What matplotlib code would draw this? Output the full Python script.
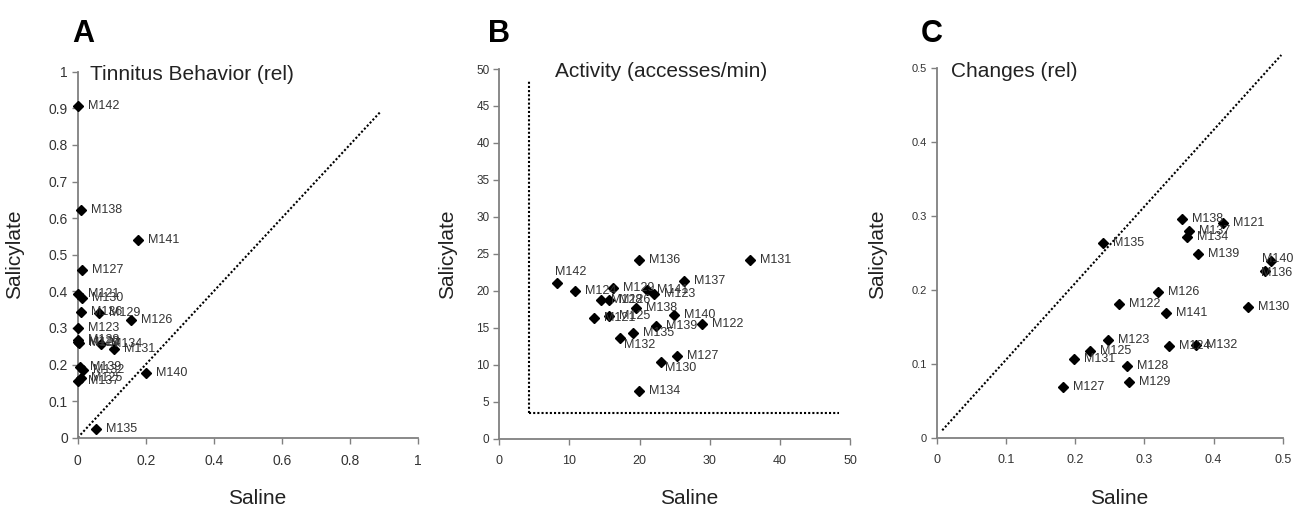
import matplotlib
matplotlib.use("Agg")
import matplotlib.pyplot as plt

plt.rcParams['font.family'] = ['Liberation Sans', 'DejaVu Sans']

# panel A - tinnitus behavior (rel)
a_names = ["M142", "M138", "M141", "M127", "M121", "M130", "M136", "M129", "M126", "M123", "M128",
           "M122", "M124", "M134", "M131", "M139", "M132", "M140", "M125", "M137", "M135"]
a_saline = [0.0, 0.010, 0.178, 0.012, 0.0, 0.012, 0.011, 0.062, 0.158, 0.0, 0.0,
            0.0, 0.003, 0.069, 0.107, 0.006, 0.016, 0.200, 0.009, 0.0, 0.054]
a_salicylate = [0.905, 0.622, 0.541, 0.458, 0.392, 0.383, 0.343, 0.340, 0.322, 0.299, 0.268,
                0.262, 0.258, 0.255, 0.241, 0.194, 0.185, 0.176, 0.164, 0.155, 0.023]

# panel B - activity (accesses/min)
b_names = ["M136", "M131", "M142", "M137", "M129", "M141", "M123", "M124", "M128", "M126", "M138",
           "M140", "M121", "M125", "M122", "M139", "M135", "M132", "M127", "M130", "M134"]
b_saline = [19.9, 35.7, 8.2, 26.4, 16.2, 21.1, 22.1, 10.8, 14.5, 15.6, 19.5,
            24.9, 13.5, 15.6, 28.9, 22.3, 19.0, 17.2, 25.4, 23.05, 19.9]
b_salicylate = [24.15, 24.15, 21.0, 21.3, 20.4, 20.1, 19.6, 19.95, 18.7, 18.7, 17.7,
                16.7, 16.3, 16.6, 15.5, 15.2, 14.3, 13.6, 11.1, 10.4, 6.4]

# panel C - changes (rel)
c_names = ["M138", "M121", "M137", "M134", "M135", "M139", "M140", "M136", "M126", "M122",
           "M130", "M141", "M123", "M124", "M132", "M125", "M131", "M128", "M129", "M127"]
c_saline = [0.355, 0.414, 0.365, 0.361, 0.241, 0.378, 0.483, 0.475, 0.320, 0.264,
            0.450, 0.332, 0.248, 0.336, 0.374, 0.222, 0.198, 0.275, 0.278, 0.182]
c_salicylate = [0.296, 0.290, 0.280, 0.272, 0.263, 0.249, 0.239, 0.226, 0.197, 0.181,
                0.177, 0.169, 0.132, 0.124, 0.125, 0.118, 0.107, 0.097, 0.075, 0.069]

# reference lines
a_diag = [0.0, 0.89]
c_diag_x = [0.008, 0.498]
c_diag_y = [0.010, 0.518]
b_thresh_x = 4.2
b_thresh_y = 3.5
b_thresh_end = 48.4

# label nudges in pixels (dx, dy) where the default right-side placement differs
b_nudge = {"M142": (-2, 11), "M132": (4, -7), "M130": (4, -6)}
c_nudge = {"M140": (-9, 2), "M136": (-4, -2)}

W, H = 1302, 507
fig = plt.figure(figsize=(W / 100, H / 100), dpi=100)

grey = "#808080"
txt = "#333333"


def box(l, r, t, b):
    return [l / W, (H - b) / H, (r - l) / W, (b - t) / H]


def styleAxes(ax, xt, yt, fs_x, fs_y):
    for s in ["top", "right"]:
        ax.spines[s].set_visible(False)
    for s in ["left", "bottom"]:
        ax.spines[s].set_color(grey)
        ax.spines[s].set_linewidth(1.3)
    ax.set_xticks(xt)
    ax.set_yticks(yt)
    ax.set_xticklabels([f"{v:g}" for v in xt], fontsize=fs_x, color=txt)
    ax.set_yticklabels([f"{v:g}" for v in yt], fontsize=fs_y, color=txt)
    ax.tick_params(colors=grey, length=4, width=1, labelcolor=txt)
    ax.tick_params(axis="x", pad=8)
    ax.tick_params(axis="y", pad=3)


def scatterLabels(ax, xs, ys, names, nudge={}):
    ax.plot(xs, ys, "D", color="black", markersize=5.5, linestyle="none", clip_on=False, zorder=3)
    for x, y, n in zip(xs, ys, names):
        dx, dy = nudge.get(n, (10, 0))
        ax.annotate(n, (x, y), xytext=(dx, dy), textcoords="offset pixels",
                    fontsize=9, color=txt, va="center", ha="left", annotation_clip=False)


dot = (0, (1, 1))

# A
axA = fig.add_axes(box(77.7, 417.7, 71.7, 437.7))
axA.set_xlim(0, 1)
axA.set_ylim(0, 1)
axA.plot(a_diag, a_diag, color="black", linestyle=dot, linewidth=1.5)
scatterLabels(axA, a_saline, a_salicylate, a_names)
styleAxes(axA, [0, 0.2, 0.4, 0.6, 0.8, 1], [i / 10 for i in range(11)], 10, 10)

# B
axB = fig.add_axes(box(499.3, 850, 69, 438.5))
axB.set_xlim(0, 50)
axB.set_ylim(0, 50)
axB.plot([b_thresh_x, b_thresh_x], [b_thresh_y, b_thresh_end], color="black", linestyle=dot, linewidth=1.5)
axB.plot([b_thresh_x, b_thresh_end], [b_thresh_y, b_thresh_y], color="black", linestyle=dot, linewidth=1.5)
scatterLabels(axB, b_saline, b_salicylate, b_names, b_nudge)
styleAxes(axB, [0, 10, 20, 30, 40, 50], list(range(0, 51, 5)), 9, 8.5)

# C
axC = fig.add_axes(box(936.7, 1282.7, 68.3, 437.7))
axC.set_xlim(0, 0.5)
axC.set_ylim(0, 0.5)
axC.plot(c_diag_x, c_diag_y, color="black", linestyle=dot, linewidth=1.5, clip_on=False)
scatterLabels(axC, c_saline, c_salicylate, c_names, c_nudge)
styleAxes(axC, [0, 0.1, 0.2, 0.3, 0.4, 0.5], [0, 0.1, 0.2, 0.3, 0.4, 0.5], 9, 8)

# panel letters, titles, axis labels
for x, letter in [(72, "A"), (488, "B"), (921, "C")]:
    fig.text(x / W, (H - 42) / H, letter, fontsize=22, fontweight="bold", color="black", va="baseline")

fig.text(90 / W, (H - 80) / H, "Tinnitus Behavior (rel)", fontsize=15, color="#222222", va="baseline")
fig.text(555 / W, (H - 77) / H, "Activity (accesses/min)", fontsize=15, color="#222222", va="baseline")
fig.text(951 / W, (H - 77) / H, "Changes (rel)", fontsize=15, color="#222222", va="baseline")

for x in [15, 448, 878]:
    fig.text(x / W, (H - 254) / H, "Salicylate", fontsize=15, rotation=90, color="#222222",
             ha="center", va="center")
for x in [257, 689, 1119]:
    fig.text(x / W, (H - 499) / H, "Saline", fontsize=15, color="#222222", ha="center", va="center")

fig.savefig("out.png", dpi=100)
